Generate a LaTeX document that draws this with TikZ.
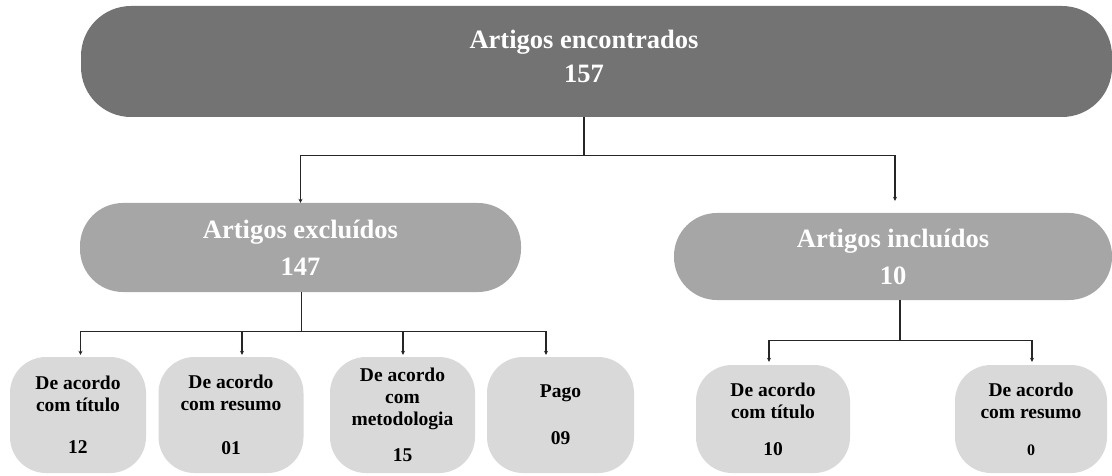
\documentclass[tikz,border=0pt]{standalone}
\usepackage{fontspec}
\setmainfont{Liberation Serif}
\usetikzlibrary{arrows.meta}

\begin{document}
\begin{tikzpicture}[x=1pt,y=-1pt,
  ln/.style={black!85,line width=1.2pt},
  tip/.style={-{Stealth[length=4pt,width=4pt]}},
  bigbox/.style={fill=black!55,rounded corners=50pt,inner sep=0pt},
  midbox/.style={fill=black!35,rounded corners=43pt,inner sep=0pt,text=white,align=center,
    font=\bfseries\fontsize{26.5}{37}\selectfont},
  smallbox/.style={fill=black!15,rounded corners=36pt,inner sep=0pt,align=center,
    minimum width=145pt,font=\bfseries\fontsize{19.5}{22}\selectfont}]
\useasboundingbox (0,0) rectangle (1112,476);
% top level
\node[bigbox,minimum width=1031pt,minimum height=111pt] (top) at (596.5,61.5) {};
\node[text=white,align=center,font=\bfseries\fontsize{26.5}{34}\selectfont] (toptext) at (584,56) {Artigos encontrados\\157};
% second level
\node[midbox,minimum width=441pt,minimum height=89pt] (exc) at (300.5,247.5) {Artigos excluídos\\147};
\node[midbox,minimum width=438pt,minimum height=87pt] (inc) at (893,256.5) {Artigos incluídos\\10};
% third level
\node[smallbox,minimum width=136pt,minimum height=116pt] (b1) at (78,415) {De acordo\\com título\\[20pt]12};
\node[smallbox,minimum height=116pt] (b2) at (231,415) {De acordo\\com resumo\\[22pt]01};
\node[smallbox,minimum height=116pt] (b3) at (402.5,415) {De acordo\\com\\metodologia\\[14pt]15};
\node[smallbox,minimum width=147pt,minimum height=116pt] (b4) at (560.5,415) {Pago\\[25pt]09};
\node[smallbox,minimum width=154pt,minimum height=108pt] (b5) at (773,419) {De acordo\\com título\\[15pt]10};
\node[smallbox,minimum width=152pt,minimum height=108pt] (b6) at (1031,419) {De acordo\\com resumo\\[15pt]{\fontsize{16}{22}\selectfont 0}};
% connectors
\draw[ln] (top.south -| toptext) -- ++(0,38) coordinate (tj);
\draw[ln,tip] (tj) -| (exc.north);
\draw[ln,tip,shorten >=12pt] (tj) -| ([xshift=2pt]inc.north);
\draw[ln] ([xshift=1pt]exc.south) -- ++(0,39) coordinate (ej);
\foreach \b/\dx in {b1/2.5,b2/11,b3/0.5,b4/-14.5}
  \draw[ln,tip,shorten >=2pt] (ej) -| ([xshift=\dx pt]\b.north);
\draw[ln] ([xshift=7pt]inc.south) -- ++(0,40.5) coordinate (ij);
\draw[ln,tip,shorten >=3pt] (ij) -| ([xshift=-4pt]b5.north);
\draw[ln,tip,shorten >=3pt] (ij) -| ([xshift=1pt]b6.north);
\end{tikzpicture}
\end{document}
